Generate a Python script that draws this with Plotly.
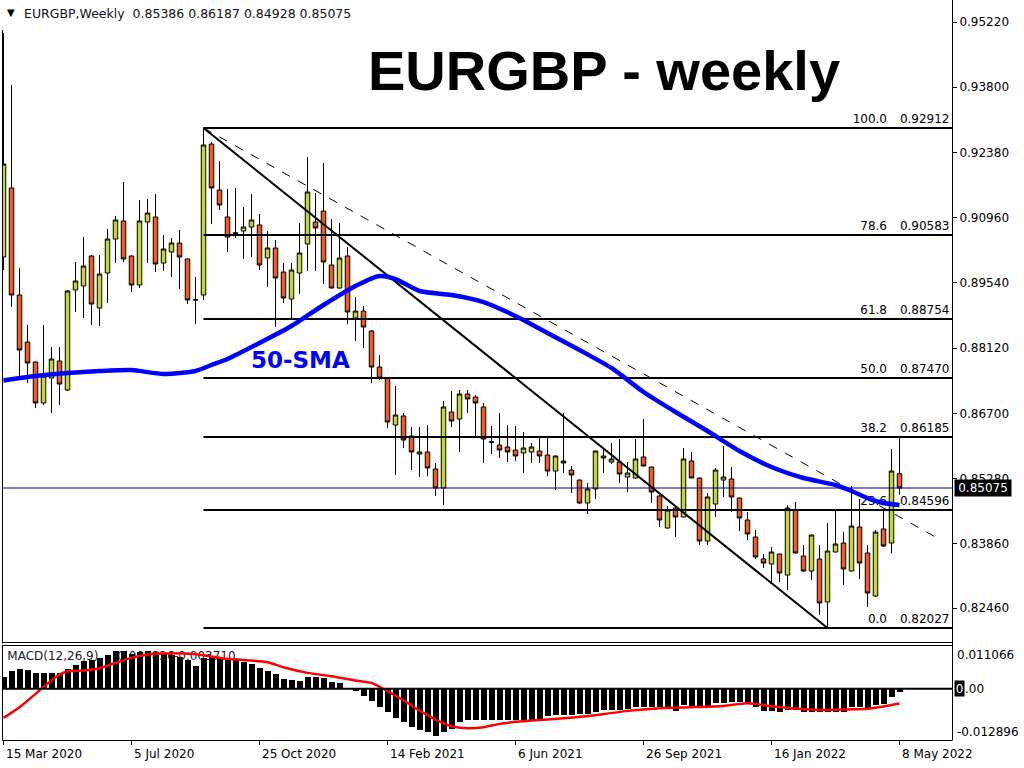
import plotly.graph_objects as go

# ---------------- data ----------------
symbol = "EURGBP"
timeframe = "Weekly"
date_idx = [0, 16, 32, 48, 64, 80, 96, 112]
date_labels = ["15 Mar 2020", "5 Jul 2020", "25 Oct 2020", "14 Feb 2021",
               "6 Jun 2021", "26 Sep 2021", "16 Jan 2022", "8 May 2022"]

opens = [0.90104, 0.91606, 0.89277, 0.88254, 0.87818, 0.86926, 0.87470, 0.87840, 0.87209, 0.89386,
         0.89473, 0.90126, 0.88994, 0.89756, 0.90496, 0.90888, 0.90126, 0.89495, 0.90866, 0.90975,
         0.89973, 0.90213, 0.90409, 0.90061, 0.89168, 0.89277, 0.92564, 0.91563, 0.90975, 0.90630,
         0.90670, 0.90757, 0.90801, 0.90082, 0.90300, 0.89777, 0.89190, 0.89756, 0.90387, 0.90866,
         0.91105, 0.89930, 0.89429, 0.90126, 0.88776, 0.88928, 0.88493, 0.87709, 0.87470, 0.86447,
         0.86643, 0.86207, 0.85815, 0.85859, 0.85489, 0.85075, 0.86730, 0.86577, 0.87122, 0.87056,
         0.86839, 0.86080, 0.86011, 0.85968, 0.85902, 0.85837, 0.85859, 0.85881, 0.85794, 0.85445,
         0.85663, 0.85467, 0.85249, 0.84749, 0.85054, 0.85772, 0.85641, 0.85641, 0.85315, 0.85293,
         0.85750, 0.85532, 0.84901, 0.84204, 0.84640, 0.84444, 0.85663, 0.85293, 0.83921, 0.84727,
         0.85249, 0.85271, 0.84857, 0.84379, 0.84008, 0.83530, 0.83421, 0.83638, 0.83181, 0.84596,
         0.83595, 0.83268, 0.83530, 0.82593, 0.83682, 0.83878, 0.83268, 0.84226, 0.83660, 0.82724,
         0.84183, 0.83878, 0.85386]
highs = [0.94981, 0.93848, 0.89865, 0.88624, 0.87830, 0.88624, 0.88145, 0.88145, 0.89386, 0.89995,
         0.90539, 0.90148, 0.90148, 0.90714, 0.90997, 0.91737, 0.90140, 0.91345, 0.91367, 0.91476,
         0.90583, 0.90518, 0.90692, 0.90070, 0.89669, 0.92912, 0.92608, 0.92194, 0.91584, 0.91606,
         0.91193, 0.91476, 0.91040, 0.90670, 0.90474, 0.89973, 0.89973, 0.90844, 0.92281, 0.91497,
         0.92150, 0.90931, 0.90844, 0.90322, 0.89233, 0.89037, 0.88515, 0.87971, 0.87480, 0.87296,
         0.86708, 0.86403, 0.86403, 0.86447, 0.85620, 0.86969, 0.87187, 0.87209, 0.87209, 0.87100,
         0.86926, 0.86425, 0.86708, 0.86447, 0.86425, 0.86294, 0.86055, 0.86164, 0.86164, 0.85780,
         0.86708, 0.85554, 0.85255, 0.85184, 0.85890, 0.85946, 0.86055, 0.86142, 0.85641, 0.86142,
         0.86577, 0.85540, 0.84923, 0.84683, 0.84683, 0.85946, 0.85859, 0.85300, 0.84966, 0.85511,
         0.85990, 0.85532, 0.84865, 0.84553, 0.84161, 0.83638, 0.83791, 0.83645, 0.84705, 0.84770,
         0.83834, 0.84060, 0.83834, 0.84313, 0.84596, 0.84117, 0.85119, 0.84836, 0.83834, 0.84161,
         0.84618, 0.85924, 0.86187]
lows = [0.89821, 0.89016, 0.87426, 0.87361, 0.86817, 0.86882, 0.86708, 0.86882, 0.87187, 0.88907,
        0.88776, 0.88624, 0.88602, 0.89103, 0.89973, 0.89995, 0.89342, 0.89429, 0.89973, 0.89777,
        0.89799, 0.89669, 0.89407, 0.89081, 0.88645, 0.89168, 0.90822, 0.91127, 0.90213, 0.90518,
        0.90061, 0.90104, 0.89821, 0.89451, 0.88580, 0.89103, 0.88733, 0.89299, 0.89799, 0.89799,
        0.89516, 0.89420, 0.89420, 0.88645, 0.88275, 0.88123, 0.87361, 0.87426, 0.86381, 0.85358,
        0.85946, 0.85467, 0.85315, 0.85336, 0.84901, 0.84705, 0.86403, 0.85859, 0.86708, 0.86185,
        0.85620, 0.85815, 0.85728, 0.85641, 0.85663, 0.85402, 0.85620, 0.85620, 0.85336, 0.85032,
        0.85402, 0.84966, 0.84727, 0.84509, 0.84836, 0.85402, 0.85598, 0.85184, 0.84988, 0.85271,
        0.85545, 0.84749, 0.84226, 0.84195, 0.84008, 0.84435, 0.85285, 0.83834, 0.83834, 0.84444,
        0.84879, 0.84553, 0.84139, 0.83943, 0.83530, 0.83334, 0.83007, 0.83029, 0.82855, 0.83652,
        0.83246, 0.83072, 0.82310, 0.82027, 0.83675, 0.82963, 0.83260, 0.83094, 0.82485, 0.82702,
        0.83791, 0.83652, 0.84928]
closes = [0.92129, 0.89277, 0.88079, 0.87796, 0.86926, 0.87513, 0.87884, 0.87339, 0.89364, 0.89582,
          0.89908, 0.89081, 0.89734, 0.90496, 0.90910, 0.90061, 0.89495, 0.90888, 0.91062, 0.89952,
          0.90278, 0.90409, 0.90104, 0.89168, 0.89175, 0.92542, 0.91606, 0.91236, 0.90539, 0.90622,
          0.90757, 0.90910, 0.89930, 0.90300, 0.89647, 0.89211, 0.89821, 0.90191, 0.91519, 0.90735,
          0.89995, 0.89429, 0.90082, 0.88907, 0.88928, 0.88580, 0.87709, 0.87470, 0.86512, 0.86664,
          0.86120, 0.85859, 0.85859, 0.85511, 0.85075, 0.86839, 0.86534, 0.87122, 0.87013, 0.86926,
          0.86142, 0.86074, 0.85902, 0.85859, 0.85772, 0.85946, 0.85968, 0.85772, 0.85445, 0.85772,
          0.85620, 0.85358, 0.84749, 0.85054, 0.85881, 0.85728, 0.85707, 0.85380, 0.85402, 0.85707,
          0.85554, 0.84988, 0.84379, 0.84596, 0.84444, 0.85707, 0.85293, 0.83921, 0.84879, 0.85467,
          0.85315, 0.84879, 0.84422, 0.84074, 0.83573, 0.83442, 0.83682, 0.83225, 0.84640, 0.83660,
          0.83268, 0.84052, 0.82572, 0.83704, 0.83856, 0.83312, 0.84248, 0.83442, 0.82789, 0.84117,
          0.83813, 0.85445, 0.85075]

sma_idx = [0, 4, 8, 12, 16, 20, 24, 26, 28, 32, 36, 40, 44, 47, 49, 52, 56, 60, 64, 68,
           72, 76, 80, 84, 88, 92, 96, 100, 104, 106, 108, 110, 112]
sma_val = [0.87415, 0.87513, 0.87579, 0.87622, 0.87644, 0.87557, 0.87622, 0.87753, 0.87884, 0.88232,
           0.88602, 0.89059, 0.89473, 0.89690, 0.89625, 0.89364, 0.89277, 0.89124, 0.88820, 0.88450,
           0.88079, 0.87688, 0.87165, 0.86730, 0.86316, 0.85881, 0.85532, 0.85293, 0.85140, 0.85010,
           0.84857, 0.84749, 0.84705]

fib_pct = ["100.0", "78.6", "61.8", "50.0", "38.2", "23.6", "0.0"]
fib_level = [0.92912, 0.90583, 0.88754, 0.87470, 0.86185, 0.84596, 0.82027]
fib_start_idx = 25

trend_idx = [25, 103]
trend_val = [0.92912, 0.82027]
dash_idx = [25, 116.94]
dash_val = [0.92912, 0.83965]

price_ticks = [0.95220, 0.93800, 0.92380, 0.90960, 0.89540, 0.88120, 0.86700, 0.85280, 0.83860, 0.82460]
last_price = 0.85075

macd_hist = [0.00311, 0.00462, 0.00504, 0.00479, 0.00404, 0.00404, 0.00404, 0.00404, 0.00504, 0.00605,
             0.00715, 0.00725, 0.00773, 0.00866, 0.00960, 0.00950, 0.00883, 0.00925, 0.00967, 0.00925,
             0.00908, 0.00866, 0.00799, 0.00740, 0.00589, 0.00773, 0.00799, 0.00782, 0.00740, 0.00731,
             0.00689, 0.00631, 0.00521, 0.00462, 0.00378, 0.00252, 0.00227, 0.00210, 0.00311, 0.00311,
             0.00269, 0.00168, 0.00160, 0.00020, -0.00059, -0.00168, -0.00311, -0.00446, -0.00589, -0.00723,
             -0.00841, -0.00967, -0.01026, -0.01093, -0.01177, -0.01093, -0.01009, -0.00841, -0.00773, -0.00782,
             -0.00782, -0.00782, -0.00782, -0.00782, -0.00782, -0.00782, -0.00782, -0.00782, -0.00673, -0.00656,
             -0.00656, -0.00656, -0.00630, -0.00630, -0.00572, -0.00521, -0.00521, -0.00521, -0.00504, -0.00462,
             -0.00446, -0.00446, -0.00446, -0.00446, -0.00546, -0.00404, -0.00420, -0.00420, -0.00420, -0.00353,
             -0.00353, -0.00336, -0.00336, -0.00380, -0.00462, -0.00546, -0.00546, -0.00588, -0.00521, -0.00521,
             -0.00572, -0.00572, -0.00572, -0.00572, -0.00572, -0.00572, -0.00462, -0.00462, -0.00504, -0.00395,
             -0.00378, -0.00193, -0.00084]
sig_idx = [0, 2, 4, 6, 7, 8, 10, 12, 14, 16, 18, 21, 24, 28, 31, 33, 35, 38, 41, 44, 46, 48, 50, 52,
           54, 56, 58, 60, 62, 64, 66, 70, 74, 78, 82, 86, 90, 93, 96, 99, 102, 105, 108, 110, 112]
sig_val = [-0.00731, -0.00462, -0.00126, 0.00220, 0.00360, 0.00446, 0.00462, 0.00521, 0.00656, 0.00782,
           0.00866, 0.00900, 0.00874, 0.00757, 0.00715, 0.00673, 0.00546, 0.00404, 0.00319, 0.00210,
           0.00151, -0.00059, -0.00294, -0.00546, -0.00773, -0.00942, -0.00992, -0.00967, -0.00883, -0.00830,
           -0.00800, -0.00740, -0.00664, -0.00555, -0.00488, -0.00462, -0.00429, -0.00361, -0.00437, -0.00496,
           -0.00530, -0.00521, -0.00504, -0.00446, -0.00371]
macd_label = "MACD(12,26,9)"
macd_now = -0.000826
macd_top, macd_bottom = 0.011066, -0.012896

# ---------------- geometry (pixels of the 1024x768 page) ----------------
PW, PH = 1024, 768
X_LEFT, X_RIGHT = 2.5, 952.0
BAR0, STEP = 3.5, 8.0
MAIN_TOP, MAIN_BOT = 0.0, 643.0
MACD_TOP, MACD_BOT = 645.0, 740.0
P_REF, PY_REF, PPX = 0.9522, 22.0, 4593.5
MACD_PPX = (MACD_BOT - MACD_TOP) / (macd_top - macd_bottom)


def xi(px):
    return (px - BAR0) / STEP


def fx(px):
    return px / PW


def fy(py):
    return 1 - py / PH


def price_at(py):
    return P_REF - (py - PY_REF) / PPX


def macd_at(py):
    return macd_top - (py - MACD_TOP) / MACD_PPX


FONT = "DejaVu Sans"
GREEN = "#C3D62C"
ORANGE = "#F25A20"
xr = [xi(X_LEFT), xi(X_RIGHT)]
idx = list(range(len(opens)))

fig = go.Figure()

fig.add_trace(go.Candlestick(
    x=idx, open=opens, high=highs, low=lows, close=closes,
    increasing=dict(line=dict(color="black", width=1), fillcolor=GREEN),
    decreasing=dict(line=dict(color="black", width=1), fillcolor=ORANGE),
    whiskerwidth=0, xaxis="x", yaxis="y", hoverinfo="skip"))

# current price line
fig.add_trace(go.Scatter(x=[xr[0] - 1, xr[1] + 1], y=[last_price, last_price], mode="lines",
                         line=dict(color="#000080", width=1), xaxis="x", yaxis="y", hoverinfo="skip"))

# fibonacci levels
fx_pts, fy_pts = [], []
for lv in fib_level:
    fx_pts += [fib_start_idx, xr[1] + 2, None]
    fy_pts += [lv, lv, None]
fig.add_trace(go.Scatter(x=fx_pts, y=fy_pts, mode="lines", line=dict(color="black", width=2),
                         xaxis="x", yaxis="y", hoverinfo="skip"))

# trend lines
fig.add_trace(go.Scatter(x=trend_idx, y=trend_val, mode="lines", line=dict(color="black", width=2),
                         xaxis="x", yaxis="y", hoverinfo="skip"))
fig.add_trace(go.Scatter(x=dash_idx, y=dash_val, mode="lines", line=dict(color="black", width=1, dash="dash"),
                         xaxis="x", yaxis="y", hoverinfo="skip"))

# fib labels
lab_off = 8.5 / PPX
fig.add_trace(go.Scatter(x=[xi(887)] * len(fib_pct), y=[v + lab_off for v in fib_level], mode="text",
                         text=fib_pct, textposition="middle left",
                         textfont=dict(family=FONT, size=12, color="black"),
                         xaxis="x", yaxis="y", hoverinfo="skip"))
fig.add_trace(go.Scatter(x=[xi(949.5)] * len(fib_level), y=[v + lab_off for v in fib_level], mode="text",
                         text=[f"{v:.5f}" for v in fib_level], textposition="middle left",
                         textfont=dict(family=FONT, size=12, color="black"),
                         xaxis="x", yaxis="y", hoverinfo="skip"))

# 50 SMA
fig.add_trace(go.Scatter(x=sma_idx, y=sma_val, mode="lines",
                         line=dict(color="#0000FF", width=4.5, shape="spline", smoothing=0.6),
                         xaxis="x", yaxis="y", hoverinfo="skip"))

# MACD label (behind bars)
fig.add_trace(go.Scatter(x=[xi(7.3), xi(113), xi(174)], y=[macd_at(657)] * 3, mode="text",
                         text=[macd_label, f"{macd_now:.6f}", f"{sig_val[-1]:.6f}"],
                         textposition="middle right",
                         textfont=dict(family=FONT, size=12, color="#1A1A2A"),
                         xaxis="x2", yaxis="y2", hoverinfo="skip"))
fig.add_trace(go.Bar(x=idx, y=macd_hist, width=0.86, marker=dict(color="black", line=dict(width=0)),
                     xaxis="x2", yaxis="y2", hoverinfo="skip"))
fig.add_trace(go.Scatter(x=sig_idx, y=sig_val, mode="lines",
                         line=dict(color="#FF0000", width=2.5, shape="spline", smoothing=0.6),
                         xaxis="x2", yaxis="y2", hoverinfo="skip"))

shapes = []
# MACD zero line
shapes.append(dict(type="line", xref="x2", yref="y2", x0=xr[0], x1=xr[1], y0=0, y1=0,
                   line=dict(color="black", width=2), layer="above"))
# panel borders
for (x0, y0, x1, y1) in [(X_LEFT, 30, X_LEFT, MAIN_BOT + 0.5), (X_LEFT, MAIN_BOT - 0.5, X_RIGHT, MAIN_BOT - 0.5),
                         (X_RIGHT + 0.5, 0, X_RIGHT + 0.5, MACD_BOT + 0.5),
                         (X_LEFT, MACD_TOP + 0.5, X_RIGHT, MACD_TOP + 0.5),
                         (X_LEFT, MACD_TOP, X_LEFT, MACD_BOT + 0.5),
                         (X_LEFT, MACD_BOT + 0.5, X_RIGHT, MACD_BOT + 0.5)]:
    shapes.append(dict(type="line", xref="paper", yref="paper", x0=fx(x0), x1=fx(x1), y0=fy(y0), y1=fy(y1),
                       line=dict(color="black", width=1), layer="above"))

ann = []
ann.append(dict(text="▼", x=fx(11), y=fy(12.5), xref="paper", yref="paper", xanchor="center", yanchor="middle",
                showarrow=False, font=dict(family=FONT, size=10, color="black")))
ann.append(dict(text=f"{symbol},{timeframe}  {opens[-1]:.5f} {highs[-1]:.5f} {lows[-1]:.5f} {closes[-1]:.5f}",
                x=fx(22), y=fy(13), xref="paper", yref="paper", xanchor="left", yanchor="middle", showarrow=False,
                font=dict(family=FONT, size=12.5, color="#101020")))
ann.append(dict(text=f"<b>{symbol} - {timeframe.lower()}</b>", x=fx(603.5), y=fy(70), xref="paper", yref="paper",
                xanchor="center", yanchor="middle",
                showarrow=False, font=dict(family="Liberation Sans", size=56, color="black")))
ann.append(dict(text="<b>50-SMA</b>", x=fx(249), y=fy(360), xref="paper", yref="paper", xanchor="left",
                yanchor="middle", showarrow=False, font=dict(family=FONT, size=23, color="#0000FF")))
for i, lab in zip(date_idx, date_labels):
    ann.append(dict(text=lab, x=i, y=fy(754), xref="x2", yref="paper", xanchor="left", yanchor="middle",
                    showarrow=False, font=dict(family=FONT, size=12, color="black")))
ann.append(dict(text=f"{last_price:.5f}", x=fx(954), y=last_price, xref="paper", yref="y", xanchor="left",
                yanchor="middle", showarrow=False, bgcolor="black", width=53, height=13, borderpad=1.5,
                font=dict(family=FONT, size=12, color="white")))
ann.append(dict(text=f"{macd_top:.6f}", x=fx(955), y=fy(655), xref="paper", yref="paper", xanchor="left",
                yanchor="middle", showarrow=False, font=dict(family=FONT, size=12, color="black")))
ann.append(dict(text=f"{macd_bottom:.6f}", x=fx(955), y=fy(732), xref="paper", yref="paper", xanchor="left",
                yanchor="middle", showarrow=False, font=dict(family=FONT, size=12, color="black")))
ann.append(dict(text="0", x=fx(954), y=0, xref="paper", yref="y2", xanchor="left", yanchor="middle",
                showarrow=False, bgcolor="black", width=8, height=14, borderpad=0.5,
                font=dict(family=FONT, size=12, color="white")))
ann.append(dict(text=".00", x=fx(962.5), y=0, xref="paper", yref="y2", xanchor="left", yanchor="middle",
                showarrow=False, font=dict(family=FONT, size=12, color="black")))

fig.update_layout(
    width=PW, height=PH, margin=dict(l=0, r=0, t=0, b=0),
    paper_bgcolor="white", plot_bgcolor="white", showlegend=False, hovermode=False,
    font=dict(family=FONT, size=12, color="black"),
    boxgap=0.25, boxgroupgap=0.25, bargap=0,
    shapes=shapes, annotations=ann,
    xaxis=dict(domain=[fx(X_LEFT), fx(X_RIGHT)], range=xr, showgrid=False, zeroline=False,
               showticklabels=False, ticks="", rangeslider=dict(visible=False), anchor="y"),
    yaxis=dict(domain=[fy(MAIN_BOT), fy(MAIN_TOP)], range=[price_at(MAIN_BOT), price_at(MAIN_TOP)],
               side="right", anchor="x", tickvals=price_ticks, ticktext=[f"{v:.5f}" for v in price_ticks],
               ticks="outside", ticklen=4, tickcolor="black", showgrid=False, zeroline=False,
               tickfont=dict(family=FONT, size=12, color="black")),
    xaxis2=dict(domain=[fx(X_LEFT), fx(X_RIGHT)], range=xr, anchor="y2", showgrid=False, zeroline=False,
                tickvals=date_idx, ticks="outside", ticklen=4, tickcolor="black", showticklabels=False),
    yaxis2=dict(domain=[fy(MACD_BOT), fy(MACD_TOP)], range=[macd_bottom, macd_top], anchor="x2",
                showgrid=False, zeroline=False, showticklabels=False, ticks=""),
)

fig.write_html("out.html", config={"displayModeBar": False},
               post_script="document.body.style.margin='0';")
